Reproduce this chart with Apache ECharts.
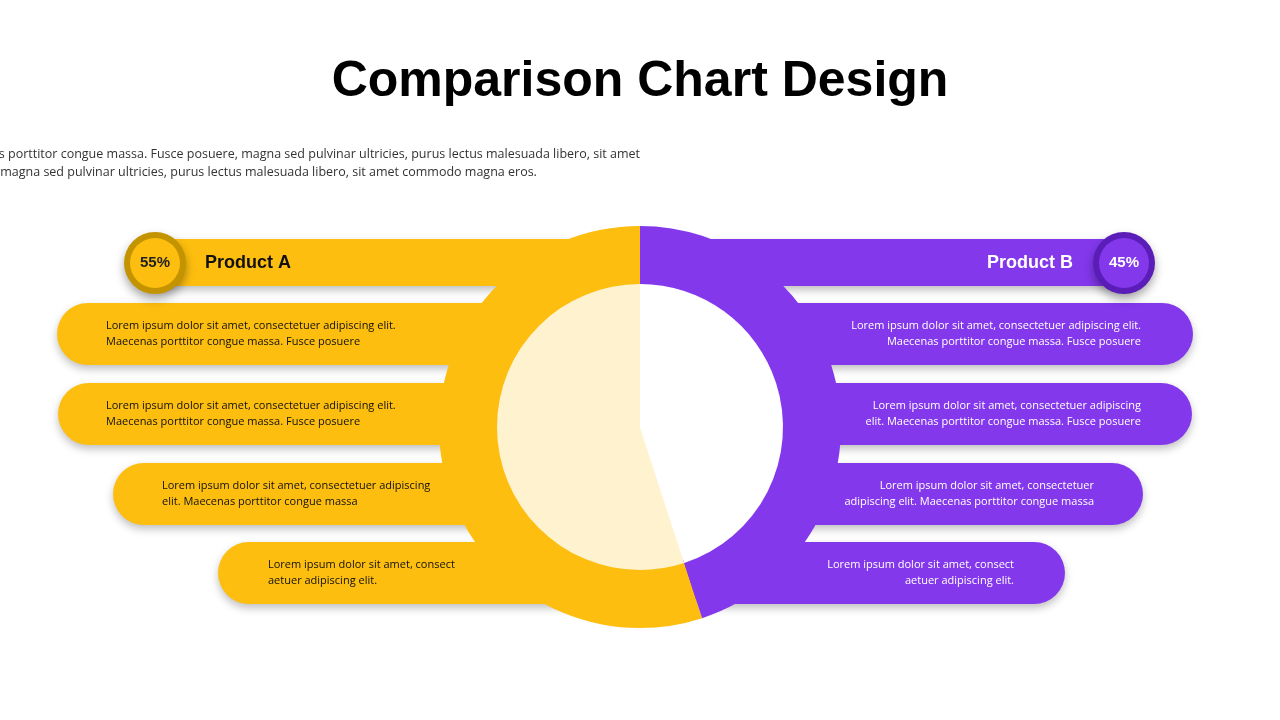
<!DOCTYPE html>
<html>
<head>
<meta charset="utf-8">
<title>Comparison Chart Design</title>
<script src="https://cdn.jsdelivr.net/npm/echarts@6/dist/echarts.min.js"></script>
<style>html,body{margin:0;background:#fff}#main{width:1280px;height:720px}</style>
</head>
<body>
<div id="main"></div>
<script>
var products = ['Product A', 'Product B'];
var shares = [55, 45];
var colors = ['#FDBE0F', '#8338EC'];
var badgeRims = ['#C39400', '#5B1DB8'];
var innerColors = ['#FFF2CF', '#FFFFFF'];
var lorem = 'Lorem ipsum dolor sit amet, consectetuer adipiscing elit. Maecenas porttitor congue massa. Fusce posuere, magna sed pulvinar ultricies, purus lectus malesuada libero, sit amet\ncommodo magna eros quis urna Fusce posuere, magna sed pulvinar ultricies, purus lectus malesuada libero, sit amet commodo magna eros.';
var leftTexts = [
    'Lorem ipsum dolor sit amet, consectetuer adipiscing elit.\nMaecenas porttitor congue massa. Fusce posuere',
    'Lorem ipsum dolor sit amet, consectetuer adipiscing elit.\nMaecenas porttitor congue massa. Fusce posuere',
    'Lorem ipsum dolor sit amet, consectetuer adipiscing\nelit. Maecenas porttitor congue massa',
    'Lorem ipsum dolor sit amet, consect\naetuer adipiscing elit.'
];
var rightTexts = [
    'Lorem ipsum dolor sit amet, consectetuer adipiscing elit.\nMaecenas porttitor congue massa. Fusce posuere',
    'Lorem ipsum dolor sit amet, consectetuer adipiscing\nelit. Maecenas porttitor congue massa. Fusce posuere',
    'Lorem ipsum dolor sit amet, consectetuer\nadipiscing elit. Maecenas porttitor congue massa',
    'Lorem ipsum dolor sit amet, consect\naetuer adipiscing elit.'
];
var rowTops = [303, 383, 463, 542];
var leftStarts = [57, 58, 113, 218];
var rightEnds = [1193, 1192, 1143, 1065];
var leftTextX = [106, 106, 162, 268];
var rightTextX = [1141, 1141, 1094, 1014];

var shadow = {shadowBlur: 8, shadowOffsetY: 4, shadowColor: 'rgba(0,0,0,0.25)'};
var g = [];
// header bars
g.push({type: 'rect', z: -10, shape: {x: 150, y: 239, width: 500, height: 47}, style: Object.assign({fill: colors[0]}, shadow)});
g.push({type: 'rect', z: -10, shape: {x: 630, y: 239, width: 500, height: 47}, style: Object.assign({fill: colors[1]}, shadow)});
rowTops.forEach(function (t, i) {
    g.push({type: 'rect', z: -10, shape: {x: leftStarts[i], y: t, width: 600 - leftStarts[i], height: 62, r: 31}, style: Object.assign({fill: colors[0]}, shadow)});
    g.push({type: 'rect', z: -10, shape: {x: 680, y: t, width: rightEnds[i] - 680, height: 62, r: 31}, style: Object.assign({fill: colors[1]}, shadow)});
    g.push({type: 'text', z: 5, x: leftTextX[i], y: t + 31, style: {text: leftTexts[i], fill: '#111', font: '11px "Open Sans"', lineHeight: 16, verticalAlign: 'middle', align: 'left'}});
    g.push({type: 'text', z: 5, x: rightTextX[i], y: t + 31, style: {text: rightTexts[i], fill: '#fff', font: '11px "Open Sans"', lineHeight: 16, verticalAlign: 'middle', align: 'right'}});
});
// badges
[[155, 0], [1124, 1]].forEach(function (b) {
    var i = b[1];
    g.push({type: 'circle', z: 3, shape: {cx: b[0], cy: 263, r: 31}, style: Object.assign({fill: badgeRims[i]}, {shadowBlur: 10, shadowOffsetY: 5, shadowColor: 'rgba(0,0,0,0.35)'})});
    g.push({type: 'circle', z: 4, shape: {cx: b[0], cy: 263, r: 25}, style: {fill: colors[i]}});
    g.push({type: 'text', z: 5, x: b[0], y: 263, style: {text: shares[i] + '%', fill: i ? '#fff' : '#222', font: 'bold 15px Arial', align: 'center', verticalAlign: 'middle'}});
});
g.push({type: 'text', z: 5, x: 205, y: 263, style: {text: products[0], fill: '#111', font: 'bold 18px Arial', verticalAlign: 'middle'}});
g.push({type: 'text', z: 5, x: 1073, y: 263, style: {text: products[1], fill: '#fff', font: 'bold 18px Arial', verticalAlign: 'middle', align: 'right'}});

var ringData = products.map(function (p, i) { return {name: p, value: shares[i], itemStyle: {color: colors[i]}}; });
var innerData = products.map(function (p, i) { return {name: p, value: shares[i], itemStyle: {color: innerColors[i]}}; });

var chart = echarts.init(document.getElementById('main'));
chart.setOption({
    backgroundColor: '#fff',
    title: [
        {text: 'Comparison Chart Design', left: 'center', top: 52, textStyle: {fontSize: 50, fontWeight: 'bold', color: '#000', fontFamily: 'Arial'}},
        {text: lorem, left: 'center', top: 140, textAlign: 'center', textStyle: {fontSize: 12.5, fontWeight: 'normal', color: '#333', fontFamily: '"Open Sans"', lineHeight: 18, align: 'center'}}
    ],
    graphic: g,
    series: [
        {type: 'pie', z: 2, center: [640, 427], radius: [142, 201], startAngle: 90, clockwise: false, silent: true,
            label: {show: false}, labelLine: {show: false}, data: ringData},
        {type: 'pie', z: 2, center: [640, 427], radius: [0, 143], startAngle: 90, clockwise: false, silent: true,
            label: {show: false}, labelLine: {show: false}, data: innerData}
    ]
});
</script>
</body>
</html>
